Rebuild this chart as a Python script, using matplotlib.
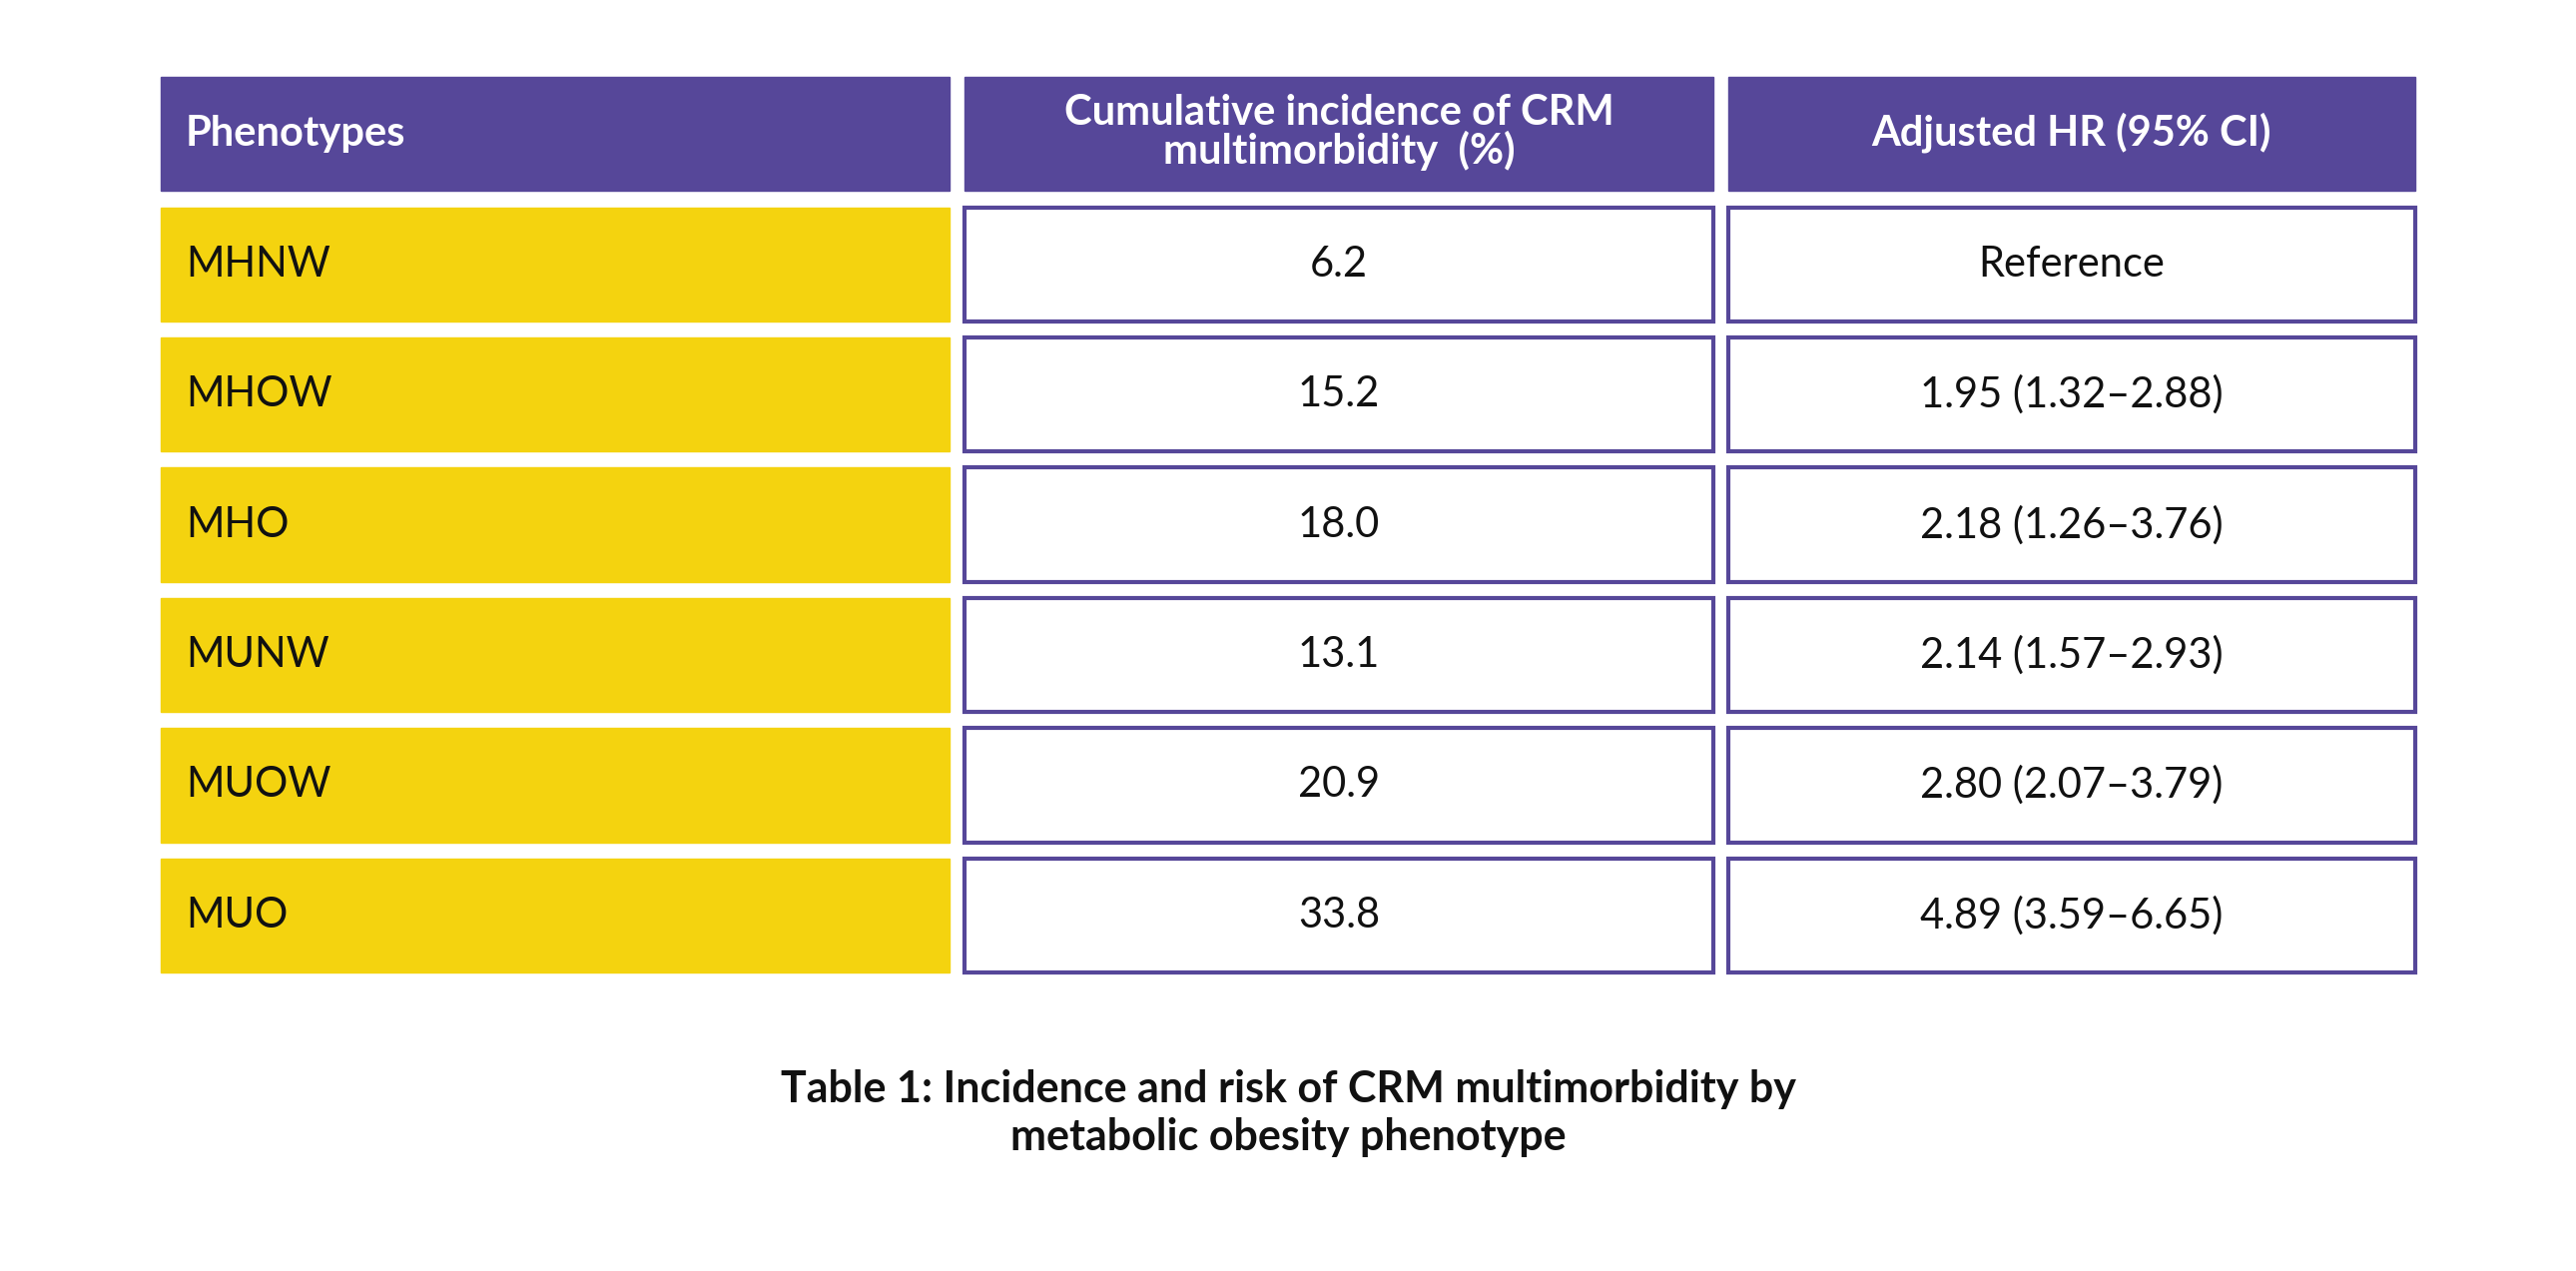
import matplotlib.pyplot as plt
from matplotlib.patches import Rectangle

phenotypes = ["MHNW", "MHOW", "MHO", "MUNW", "MUOW", "MUO"]
incidence = ["6.2", "15.2", "18.0", "13.1", "20.9", "33.8"]
hr = ["Reference", "1.95 (1.32\u20132.88)", "2.18 (1.26\u20133.76)",
      "2.14 (1.57\u20132.93)", "2.80 (2.07\u20133.79)", "4.89 (3.59\u20136.65)"]
headers = ["Phenotypes", "Cumulative incidence of CRM\nmultimorbidity  (%)", "Adjusted HR (95% CI)"]
caption = "Table 1: Incidence and risk of CRM multimorbidity by\nmetabolic obesity phenotype"

purple = "#564799"
yellow = "#F4D30F"
plt.rcParams['font.family'] = ['Lato', 'DejaVu Sans']

fig = plt.figure(figsize=(25.8, 12.73), dpi=100)
ax = fig.add_axes([0, 0, 1, 1])
ax.set_xlim(0, 1568)
ax.set_ylim(773, 0)
ax.axis('off')

cols = [(98, 578), (587, 1043), (1052, 1470)]
head_y = (47, 116)
row_top = 126
row_h = 69.5
pitch = 79.2

# header
for i, (x0, x1) in enumerate(cols):
    ax.add_patch(Rectangle((x0, head_y[0]), x1 - x0, head_y[1] - head_y[0], color=purple))
    if i == 0:
        ax.text(x0 + 15, sum(head_y) / 2, headers[i], color="white", fontsize=30,
                fontweight="bold", ha="left", va="center")
    else:
        ax.text((x0 + x1) / 2, sum(head_y) / 2 - 1, headers[i], color="white", fontsize=30,
                fontweight="bold", ha="center", va="center", linespacing=0.95)

for r in range(len(phenotypes)):
    y0 = row_top + r * pitch
    yc = y0 + row_h / 2
    x0, x1 = cols[0]
    ax.add_patch(Rectangle((x0, y0), x1 - x0, row_h, color=yellow))
    ax.text(x0 + 15, yc, phenotypes[r], fontsize=30, ha="left", va="center", color="#111111")
    for c, vals in ((1, incidence), (2, hr)):
        x0, x1 = cols[c]
        ax.add_patch(Rectangle((x0, y0), x1 - x0, row_h, facecolor="white",
                               edgecolor=purple, linewidth=3))
        ax.text((x0 + x1) / 2, yc, vals[r], fontsize=30, ha="center", va="center",
                color="#111111")

ax.text(784, 677, caption, fontsize=31, fontweight="bold", ha="center", va="center",
        color="#111111", linespacing=1.25)

fig.savefig("out.png", dpi=100, facecolor="white")
